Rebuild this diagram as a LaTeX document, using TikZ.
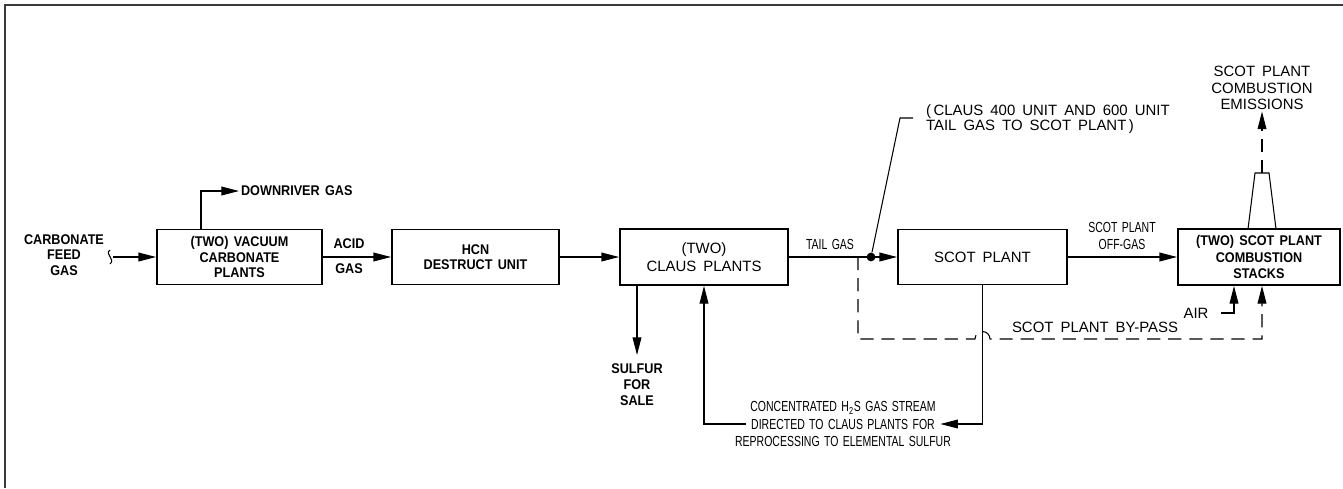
\documentclass[tikz,border=0pt]{standalone}
\usepackage{fontspec}
\setmainfont{Liberation Sans}
\newfontfamily\cadfont[WordSpace=1.7]{Liberation Sans}
\newfontfamily\cadnarrow[FakeStretch=0.72,WordSpace=1.5]{Liberation Sans}
\newfontfamily\blockfont[FakeStretch=0.9,WordSpace=1.5]{Liberation Sans}
\usepackage{tikz}
\usetikzlibrary{arrows.meta}
\definecolor{FrameGray}{HTML}{3A3A3A}

\tikzset{
  unitbox/.style={draw, line width=1.1pt, minimum height=1.1cm, inner sep=0pt, align=center},
  pipe/.style={line width=0.6pt},
  flow/.style={line width=0.6pt, -{Triangle[length=10pt,width=5pt]}},
  bypass/.style={dash pattern=on 7.5pt off 4.5pt},
  boldlbl/.style={font=\blockfont\bfseries\fontsize{8}{8.8}\selectfont, align=center, inner sep=1pt},
  cadlbl/.style={font=\cadfont\fontsize{8.5}{10}\selectfont, align=center, inner sep=1pt},
  narrowlbl/.style={font=\cadnarrow\fontsize{8.3}{9.5}\selectfont, align=center, inner sep=1pt}
}

\begin{document}
\begin{tikzpicture}[x=0.02cm, y=-0.02cm]
  \useasboundingbox (0,0) rectangle (1343,488);
  \draw[FrameGray, line width=1pt] (5,488) -- (5,5) -- (1343,5);

  \node[unitbox, boldlbl, minimum width=3.30cm] (vac) at (239.5,257) {(TWO) VACUUM\\CARBONATE\\PLANTS};
  \node[unitbox, boldlbl, minimum width=3.34cm] (hcn) at (475.5,257) {HCN\\DESTRUCT UNIT};
  \node[unitbox, cadlbl, minimum width=3.36cm, minimum height=1.12cm] (claus) at (704,257) {(TWO)\\CLAUS PLANTS};
  \node[unitbox, cadlbl, minimum width=3.38cm] (scot) at (982.5,257) {SCOT PLANT};
  \node[unitbox, boldlbl, font=\blockfont\bfseries\fontsize{8}{9.3}\selectfont, minimum width=3.24cm, minimum height=1.12cm] (stack) at (1259,257) {(TWO) SCOT PLANT\\COMBUSTION\\STACKS};

  \node[boldlbl] (feed) at (64,255) {CARBONATE\\FEED\\GAS};
  \coordinate (feedin) at (113,257);
  \draw[pipe] (110,250) .. controls (104,254) and (116,259) .. (110,264);
  \draw[flow] (feedin) -- (vac);

  \node[boldlbl, anchor=west] (downriver) at (239,191) {DOWNRIVER GAS};
  \coordinate (drx) at (201,0);
  \draw[flow] (vac.north -| drx) |- (downriver.west);

  \node[boldlbl] (acid) at (349,244) {ACID};
  \node[boldlbl] (acidgas) at (349,269) {GAS};
  \draw[flow] (vac) -- (hcn);
  \draw[flow] (hcn) -- (claus);

  \node[narrowlbl] (tailgas) at (830,244) {TAIL GAS};
  \draw[flow] (claus) -- (scot);
  \node[circle, fill, inner sep=0pt, minimum size=5pt] (tap) at (871,257) {};
  \coordinate (ldrknee) at (900,118);
  \coordinate (ldrend) at (913,118);
  \draw[pipe] (tap) -- (ldrknee) -- (ldrend);
  \node[cadlbl, font=\cadfont\fontsize{8.5}{7}\selectfont, align=left, anchor=west] (note) at (924,119) {(\,CLAUS 400 UNIT AND 600 UNIT\\TAIL GAS TO SCOT PLANT\,)};

  \node[narrowlbl] (offgas) at (1122,236) {SCOT PLANT\\OFF-GAS};
  \draw[flow] (scot) -- (stack);

  \coordinate (chimL) at (1248,229);
  \coordinate (chimtopL) at (1255,173);
  \coordinate (chimtopR) at (1269,173);
  \coordinate (chimR) at (1276,229);
  \coordinate (chimtop) at (1262,173);
  \draw[pipe] (chimL) -- (chimtopL) -- (chimtopR) -- (chimR);
  \node[cadlbl, font=\cadfont\fontsize{8.5}{9.2}\selectfont] (emis) at (1262,88) {SCOT PLANT\\COMBUSTION\\EMISSIONS};
  \draw[flow, bypass] (chimtop) -- (emis.south);

  \coordinate (bypasstap) at (858,257);
  \coordinate (bypasscorner) at (858,339);
  \coordinate (hopL) at (975,339);
  \coordinate (bypassx) at (1262,339);
  \draw[flow, bypass] (bypasstap) -- (bypasscorner) -- (hopL)
    arc[start angle=180, end angle=0, radius=0.15cm] -- (bypassx) -- (stack.south -| bypassx);
  \node[cadlbl] (bypasslbl) at (1095,327) {SCOT PLANT BY-PASS};

  \node[cadlbl] (air) at (1196,313) {AIR};
  \coordinate (airx) at (1234,0);
  \draw[flow] ([xshift=6pt]air.east) -| (stack.south -| airx);

  \coordinate (sulx) at (637,0);
  \coordinate (sulfurout) at (637,355);
  \node[boldlbl, font=\blockfont\bfseries\fontsize{8}{9}\selectfont, anchor=north] (sulfur) at (637,362) {SULFUR\\FOR\\SALE};
  \draw[flow] (claus.south -| sulx) -- (sulfurout);

  \node[narrowlbl] (h2sa) at (843,408) {CONCENTRATED H\textsubscript{2}S GAS STREAM};
  \node[narrowlbl] (h2sb) at (843,424) {DIRECTED TO CLAUS PLANTS FOR};
  \node[narrowlbl] (h2sc) at (843,441) {REPROCESSING TO ELEMENTAL SULFUR};
  \coordinate (retx) at (704,0);
  \draw[flow] (scot.south) |- ([xshift=2pt]h2sb.east);
  \draw[flow] ([xshift=-2pt]h2sb.west) -| (claus.south -| retx);
\end{tikzpicture}
\end{document}
